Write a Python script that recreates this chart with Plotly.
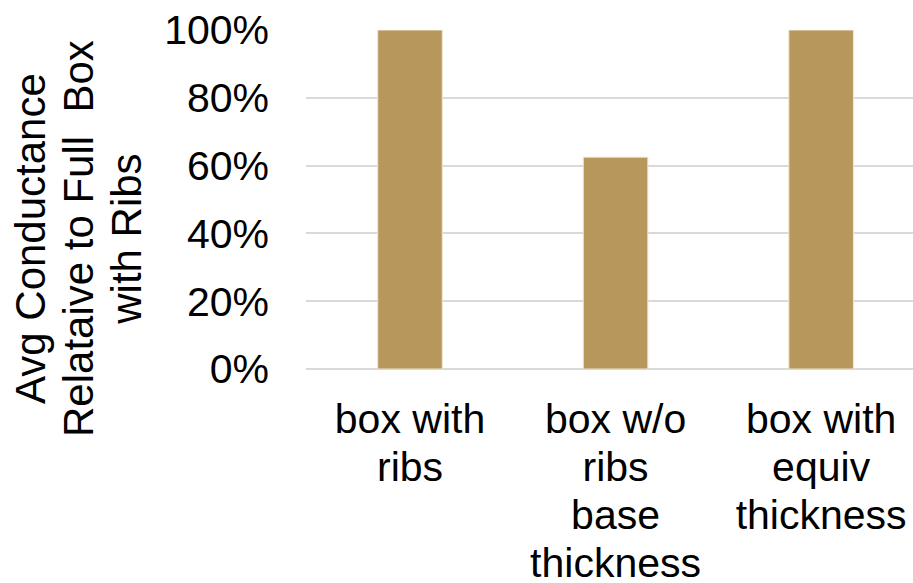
import plotly.graph_objects as go

# Average conductance of each box design, relative to the full box with ribs
categories = ["box with ribs", "box w/o ribs base thickness", "box with equiv thickness"]
tick_lines = [["box with", "ribs"],
              ["box w/o", "ribs", "base", "thickness"],
              ["box with", "equiv", "thickness"]]
values = [1.00, 0.625, 1.00]
y_ticks = [0, 0.2, 0.4, 0.6, 0.8, 1.0]
y_title_lines = ["Avg Conductance", "Relataive to Full\u00a0 Box", "with Ribs"]

BAR_COLOR = "#B7975B"
GRID = "#D9D9D9"
FONT = "Liberation Sans, Arial, sans-serif"
GLYPH = 41      # visible glyph size
BASE = 37       # base size that sets the line pitch


def stacked(lines, size=GLYPH):
    return "<br>".join(f"<span style='font-size:{size}px'>{ln}</span>" for ln in lines)


fig = go.Figure(
    go.Bar(
        x=categories,
        y=values,
        marker=dict(color=BAR_COLOR, line=dict(color="#EFE6D2", width=1)),
        hoverinfo="skip",
    )
)

fig.update_layout(
    width=913,
    height=583,
    margin=dict(l=306, r=0, t=30, b=214),
    paper_bgcolor="white",
    plot_bgcolor="white",
    bargap=0.686,
    showlegend=False,
    font=dict(family=FONT, color="black"),
)

fig.update_xaxes(
    type="category",
    range=[-0.506, 2.447],
    tickvals=categories,
    ticktext=[stacked(t) for t in tick_lines],
    tickfont=dict(size=BASE, family=FONT, color="black"),
    showgrid=False,
    showline=False,
    ticks="",
    ticklabelstandoff=26,
    automargin=False,
)

fig.update_yaxes(
    range=[0, 1],
    tickvals=y_ticks,
    tickformat=".0%",
    tickfont=dict(size=GLYPH, family=FONT, color="black"),
    showgrid=True,
    gridcolor=GRID,
    gridwidth=2,
    zeroline=True,
    zerolinecolor=GRID,
    zerolinewidth=2,
    showline=False,
    ticks="",
    ticklabelstandoff=36,
    automargin=False,
)

fig.add_annotation(
    text=stacked(y_title_lines, 42),
    textangle=-90,
    xref="paper", yref="paper",
    x=(79 - 306) / 607, y=(369 - 239) / 339,
    xanchor="center", yanchor="middle",
    showarrow=False,
    font=dict(size=BASE, family=FONT, color="black"),
)

fig.write_html("out.html")
